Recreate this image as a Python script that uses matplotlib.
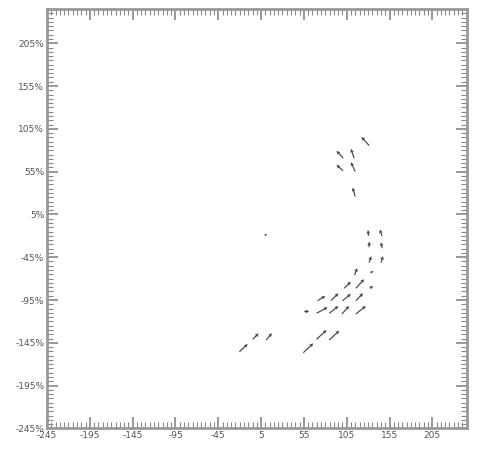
"""Quiver field of short vectors on a -245..245 grid."""

import matplotlib

matplotlib.use("Agg")
import matplotlib.pyplot as plt
import numpy as np
from matplotlib.ticker import MultipleLocator, FixedLocator

# arrow tails (data units) and vector components
X = [131.2, 100.9, 113.7, 100.9, 114.9, 114.9,
     130.4, 146.2, 131.0, 146.5, 131.2, 145.0, 114.2, 132.7,
     102.1, 115.7, 132.0,
     71.0, 86.6, 100.1, 115.7,
     55.5, 69.8, 84.6, 99.4, 115.7,
     69.8, 84.6, 54.3,
     -20.3, -4.8, 10.8, 8.8]
Y = [85.5, 70.8, 70.8, 55.9, 55.1, 25.9,
     -20.1, -20.1, -33.3, -34.5, -51.3, -51.3, -65.7, -63.2,
     -81.3, -81.3, -81.3,
     -95.8, -95.8, -95.8, -95.8,
     -108.6, -110.5, -110.5, -111.3, -111.3,
     -140.9, -141.7, -156.6,
     -155.4, -140.9, -141.7, -18.9]
U = [-9.0, -7.8, -3.8, -7.8, -5.0, -3.0,
     -0.5, -2.5, 0.5, -1.5, 2.5, 2.5, 3.0, 3.5,
     7.8, 9.7, 3.9,
     8.9, 8.8, 9.8, 8.5,
     5.8, 12.8, 10.8, 8.5, 11.7,
     11.7, 11.7, 11.7,
     9.7, 7.0, 7.0, 3.5]
V = [10.0, 8.5, 10.9, 7.0, 11.0, 10.5,
     7.0, 7.5, 6.5, 7.0, 7.5, 7.5, 8.0, 2.0,
     7.8, 10.6, 2.7,
     5.5, 8.7, 7.9, 8.7,
     0.5, 7.0, 8.5, 9.3, 9.3,
     10.9, 10.9, 11.0,
     9.0, 7.0, 7.8, 0.0]

TICKS = [-245, -195, -145, -95, -45, 5, 55, 105, 155, 205]
X_LABELS = ["-245", "-195", "-145", "-95", "-45", "5", "55", "105", "155", "205"]
Y_LABELS = [f"{t}%" for t in TICKS]

fig = plt.figure(figsize=(4.8, 4.5), dpi=100)
ax = fig.add_axes([0.098, 0.048, 0.874, 0.932])

ax.quiver(X, Y, U, V, angles="xy", scale_units="xy", scale=1,
          color="#444444", width=0.0028, headwidth=3.2, headlength=3.2,
          headaxislength=2.8, minshaft=1.2, minlength=0.5)

ax.set_xlim(-245, 245)
ax.set_ylim(-245, 245)

ax.xaxis.set_major_locator(FixedLocator(TICKS))
ax.yaxis.set_major_locator(FixedLocator(TICKS))
ax.xaxis.set_minor_locator(MultipleLocator(5))
ax.yaxis.set_minor_locator(MultipleLocator(5))
ax.set_xticklabels(X_LABELS)
ax.set_yticklabels(Y_LABELS)

ax.tick_params(which="both", direction="in", top=True, right=True,
               color="#888888", labelcolor="#555555", labelsize=6.5)
ax.tick_params(which="major", length=8, width=1.2, pad=2)
ax.tick_params(which="minor", length=4, width=0.8)

for spine in ax.spines.values():
    spine.set_color("#999999")
    spine.set_linewidth(2)

fig.savefig("out.png", dpi=100)
